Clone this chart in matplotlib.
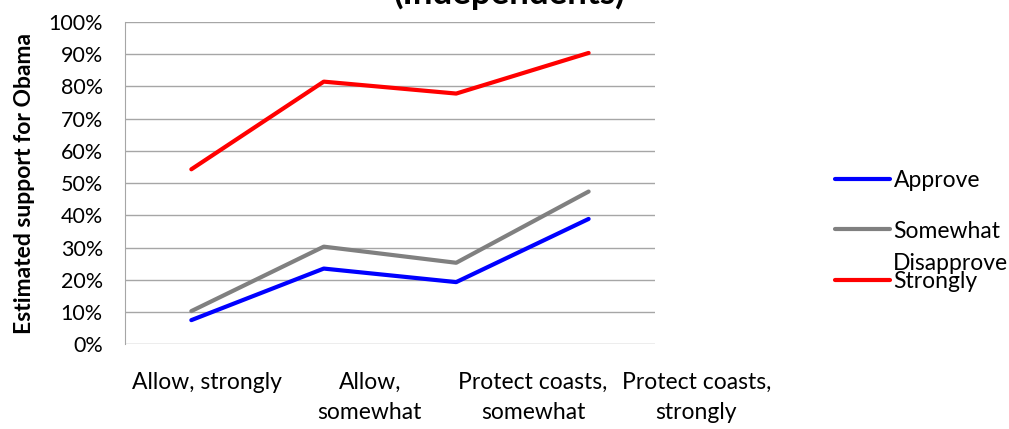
import matplotlib.pyplot as plt
from matplotlib.ticker import PercentFormatter

plt.rcParams['font.family'] = ['Lato', 'DejaVu Sans']

categories = ['Allow, strongly', 'Allow,\nsomewhat', 'Protect coasts,\nsomewhat', 'Protect coasts,\nstrongly']
approve = [7.5, 23.5, 19.3, 38.9]
somewhat = [10.3, 30.3, 25.3, 47.4]
strongly = [54.3, 81.5, 77.8, 90.4]

fig = plt.figure(figsize=(10.09, 4.29), dpi=100)
ax = fig.add_axes([0.124, 0.1974, 0.525, 0.7513])
# category labels sit on a wider band than the plot area (as in the source chart)
ax_lab = fig.add_axes([125 / 1009, 0.1974, 653 / 1009, 0.7513], frameon=False)
ax_lab.patch.set_visible(False)

x = range(len(categories))
ax.plot(x, approve, color='#0000FF', lw=3, solid_capstyle='round', label='Approve')
ax.plot(x, somewhat, color='#808080', lw=3, solid_capstyle='round', label='Somewhat')
ax.plot(x, strongly, color='#FF0000', lw=3, solid_capstyle='round', label='Strongly')

ax.set_xlim(-0.5, 3.5)
ax.set_ylim(0, 100)
ax.set_yticks(range(0, 101, 10))
ax.yaxis.set_major_formatter(PercentFormatter(decimals=0))
ax.set_xticks([])
ax.tick_params(axis='y', length=0, pad=16, labelsize=15.5)
ax.grid(True, axis='y', color='#A6A6A6', lw=1)
ax.set_axisbelow(True)
for s in ['top', 'right', 'bottom']:
    ax.spines[s].set_visible(False)
ax.spines['left'].set_color('#A6A6A6')

ax_lab.set_xlim(-0.5, 3.5)
ax_lab.set_xticks(list(x))
ax_lab.set_xticklabels(categories, fontsize=16.5, linespacing=1.5)
ax_lab.tick_params(axis='x', length=0, pad=20)
ax_lab.set_yticks([])

ax.set_ylabel('Estimated support for Obama', fontsize=16.5, fontweight='bold', labelpad=10)

fig.text(0.505, 1 - 10 / 429, '(Independents)', ha='center', va='bottom',
         fontsize=25, fontweight='bold')

leg = ax.legend(loc='center left', bbox_to_anchor=(835 / 1009, 1 - 231 / 429),
                bbox_transform=fig.transFigure, frameon=False, fontsize=16.5,
                handlelength=2.4, handletextpad=0.15, labelspacing=1.3,
                borderpad=0, borderaxespad=0)
fig.text(893 / 1009, 1 - 263 / 429, 'Disapprove', ha='left', va='center', fontsize=16.5)

fig.savefig('out.png', dpi=100)
